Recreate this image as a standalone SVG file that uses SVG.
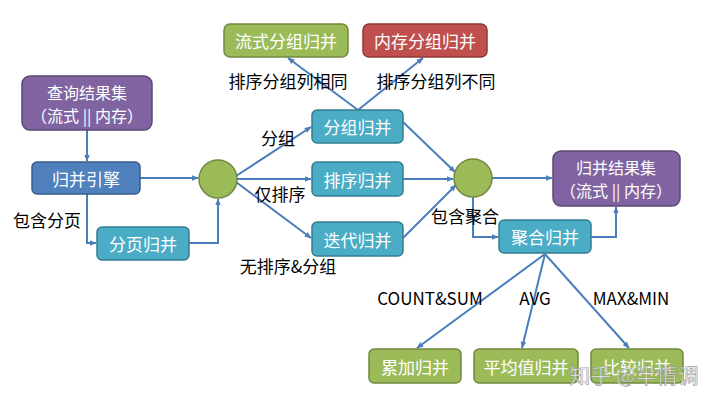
<svg xmlns="http://www.w3.org/2000/svg" width="720" height="404" viewBox="0 0 720 404">
<defs>
<marker id="arr" viewBox="0 0 10 10" refX="9" refY="5" markerWidth="7" markerHeight="7" markerUnits="userSpaceOnUse" orient="auto">
<path d="M0,1 L10,5 L0,9 z" fill="#4a7ebb"/>
</marker>
<style>
.t{font-family:"Noto Sans CJK SC","Liberation Sans",sans-serif;font-size:17px;fill:#fff;text-anchor:middle;dominant-baseline:central}
.t2{font-size:16px}
.l{font-family:"Noto Sans CJK SC","Liberation Sans",sans-serif;font-size:17px;fill:#000;text-anchor:middle;dominant-baseline:central}
.g{fill:#9bbb59;stroke:#71893f;stroke-width:1.5}
.r{fill:#c0504d;stroke:#8c3836;stroke-width:1.5}
.p{fill:#8064a2;stroke:#5c4776;stroke-width:1.5}
.c{fill:#4bacc6;stroke:#357d91;stroke-width:1.5}
.b{fill:#4f81bd;stroke:#385d8a;stroke-width:1.5}
.e{fill:none;stroke:#4a7ebb;stroke-width:2;marker-end:url(#arr)}
</style>
</defs>
<rect width="720" height="404" fill="#fff"/>
<g id="connectors">
<path class="e" d="M87,130 V161"/>
<path class="e" d="M140,178 H198"/>
<path class="e" d="M87,194 V243 H96"/>
<path class="e" d="M189,243 H218 V199"/>
<path class="e" d="M236,176 L311,127"/>
<path class="e" d="M237,179 H311"/>
<path class="e" d="M236,182 L311,238"/>
<path class="e" d="M358,110 L288,58"/>
<path class="e" d="M358,110 L423,58"/>
<path class="e" d="M403,122 L455,172"/>
<path class="e" d="M403,179 H453"/>
<path class="e" d="M403,238 L456,185"/>
<path class="e" d="M492,178 H552"/>
<path class="e" d="M473,197 V237 H498"/>
<path class="e" d="M591,237 H616 V207"/>
<path class="e" d="M545,254 L417,348"/>
<path class="e" d="M545,254 L522,348"/>
<path class="e" d="M545,254 L629,348"/>
</g>
<g id="labels">
<text class="l" x="288" y="80">排序分组列相同</text>
<text class="l" x="436" y="80">排序分组列不同</text>
<text class="l" x="278" y="137">分组</text>
<text class="l" x="280" y="193">仅排序</text>
<text class="l" x="288" y="265">无排序&amp;分组</text>
<text class="l" x="47" y="219">包含分页</text>
<text class="l" x="465" y="215">包含聚合</text>
<text class="l" x="430" y="297">COUNT&amp;SUM</text>
<text class="l" x="535" y="297">AVG</text>
<text class="l" x="631" y="297">MAX&amp;MIN</text>
</g>
<g id="n_stream_group"><rect class="g" x="224" y="24" width="124" height="33" rx="6"/><text class="t" x="286" y="40.5">流式分组归并</text></g>
<g id="n_mem_group"><rect class="r" x="363" y="24" width="124" height="33" rx="6"/><text class="t" x="425" y="40.5">内存分组归并</text></g>
<g id="n_query"><rect class="p" x="22" y="76" width="130" height="54" rx="8"/><text class="t t2" x="87" y="91.5">查询结果集</text><text class="t t2" x="87" y="114.5">（流式 || 内存）</text></g>
<g id="n_engine"><rect class="b" x="32" y="162" width="108" height="32" rx="5"/><text class="t" x="86" y="178">归并引擎</text></g>
<g id="n_page"><rect class="c" x="97" y="227" width="92" height="33" rx="5"/><text class="t" x="143" y="243.5">分页归并</text></g>
<g id="n_c1"><circle class="g" cx="218" cy="179" r="19"/></g>
<g id="n_group"><rect class="c" x="312" y="110" width="91" height="33" rx="5"/><text class="t" x="357.5" y="126.5">分组归并</text></g>
<g id="n_sort"><rect class="c" x="312" y="162" width="91" height="34" rx="5"/><text class="t" x="357.5" y="179">排序归并</text></g>
<g id="n_iter"><rect class="c" x="312" y="222" width="91" height="34" rx="5"/><text class="t" x="357.5" y="239">迭代归并</text></g>
<g id="n_c2"><circle class="g" cx="473" cy="178" r="19"/></g>
<g id="n_result"><rect class="p" x="553" y="151" width="127" height="55" rx="8"/><text class="t t2" x="616" y="167">归并结果集</text><text class="t t2" x="616" y="190">（流式 || 内存）</text></g>
<g id="n_agg"><rect class="c" x="499" y="220" width="92" height="33" rx="5"/><text class="t" x="545" y="236.5">聚合归并</text></g>
<g id="n_sum"><rect class="g" x="369" y="349" width="92" height="34" rx="5"/><text class="t" x="415" y="366">累加归并</text></g>
<g id="n_avg"><rect class="g" x="474" y="349" width="104" height="34" rx="5"/><text class="t" x="526" y="366">平均值归并</text></g>
<g id="n_cmp"><rect class="g" x="591" y="349" width="92" height="34" rx="5"/><text class="t" x="637" y="366">比较归并</text></g>
<text x="634" y="374" style="font-family:'Noto Sans CJK SC',sans-serif;font-size:21px;fill:#fff;fill-opacity:0.8;stroke:#777;stroke-width:0.7;stroke-opacity:0.7;text-anchor:middle;dominant-baseline:central">知乎 @半情调</text>
</svg>
